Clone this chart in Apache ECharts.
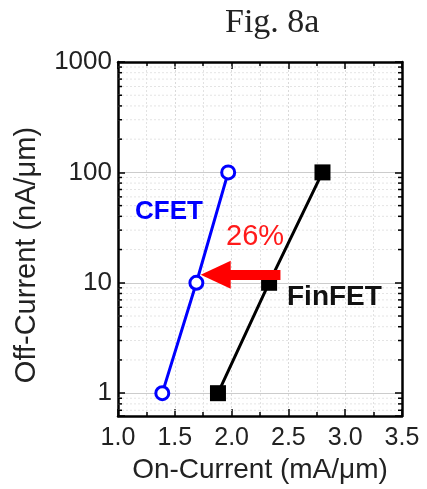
<!DOCTYPE html>
<html>
<head>
<meta charset="utf-8">
<script src="https://cdn.jsdelivr.net/npm/echarts@6/dist/echarts.min.js"></script>
<style>
html,body{margin:0;padding:0;background:#fff;}
#chart{width:427px;height:489px;}
</style>
</head>
<body>
<div id="chart"></div>
<script>
// ---- data ----
const xRange = [1.0, 3.5];
const yRange = [0.62, 1000];
const xTickLabels = ['1.0', '1.5', '2.0', '2.5', '3.0', '3.5'];
const yTickLabels = ['1', '10', '100', '1000'];
const yMinorTicks = [0.7, 0.8, 0.9, 2, 3, 4, 5, 6, 7, 8, 9, 20, 30, 40, 50, 60, 70, 80, 90, 200, 300, 400, 500, 600, 700, 800, 900];
const cfetOn = [1.39, 1.69, 1.97];
const cfetOff = [1, 10, 100];
const finfetOn = [1.88, 2.33, 2.80];
const finfetOff = [1, 10, 100];
const arrowFrom = [2.43, 11.8];
const arrowTo = [1.86, 11.8];

const FONT = 'Liberation Sans, Arial, sans-serif';
const chart = echarts.init(document.getElementById('chart'));

function isDecade(v) {
  const l = Math.log10(v);
  return Math.abs(l - Math.round(l)) < 1e-6;
}

const option = {
  backgroundColor: '#fff',
  animation: false,
  title: {
    text: 'Fig. 8a',
    left: 220, top: 1,
    textStyle: { fontFamily: 'Liberation Serif, Times New Roman, serif', fontSize: 34, fontWeight: 'normal', color: '#222' }
  },
  grid: { left: 118, right: 25, top: 62, bottom: 69, containLabel: false },
  xAxis: [{
    type: 'value', min: xRange[0], max: xRange[1], interval: 0.5,
    name: 'On-Current (mA/\u03bcm)', nameLocation: 'middle', nameGap: 27,
    nameTextStyle: { fontFamily: FONT, fontSize: 28, color: '#222' },
    axisLine: { show: true, onZero: false, lineStyle: { color: '#000', width: 2.5 } },
    axisTick: { show: true, inside: true, length: 7, lineStyle: { color: '#000', width: 1.5 } },
    minorTick: { show: true, splitNumber: 2, length: 4, lineStyle: { color: '#000', width: 1.5 } },
    axisLabel: { fontFamily: FONT, fontSize: 25, color: '#222', margin: 10,
      formatter: v => { const s = v.toFixed(1); return xTickLabels.includes(s) ? s : ''; } },
    splitLine: { show: true, lineStyle: { color: '#dadada', type: [2, 2], width: 1 } },
    minorSplitLine: { show: true, lineStyle: { color: '#e2e2e2', type: [2, 2], width: 1 } }
  }, {
    type: 'value', position: 'top', min: xRange[0], max: xRange[1], interval: 0.5,
    axisLine: { show: true, onZero: false, lineStyle: { color: '#000', width: 2.5 } },
    axisTick: { show: true, inside: true, length: 7, lineStyle: { color: '#000', width: 1.5 } },
    minorTick: { show: true, splitNumber: 2, length: 4, lineStyle: { color: '#000', width: 1.5 } },
    axisLabel: { show: false },
    splitLine: { show: false }
  }],
  yAxis: [{
    type: 'log', logBase: 10, min: yRange[0], max: yRange[1],
    axisLine: { show: true, onZero: false, lineStyle: { color: '#000', width: 2.5 } },
    axisTick: { show: true, inside: true, length: 7, lineStyle: { color: '#000', width: 1.5 } },
    axisLabel: { fontFamily: FONT, fontSize: 26, color: '#222', margin: 6,
      formatter: v => { if (!isDecade(v)) return ''; const s = String(Math.round(v)); return yTickLabels.includes(s) ? s : ''; } },
    splitLine: { show: true, lineStyle: { color: '#cccccc', width: 1 } }
  }, {
    type: 'log', logBase: 10, min: yRange[0], max: yRange[1], position: 'right',
    axisLine: { show: true, onZero: false, lineStyle: { color: '#000', width: 2.5 } },
    axisTick: { show: true, inside: true, length: 7, lineStyle: { color: '#000', width: 1.5 } },
    axisLabel: { show: false },
    splitLine: { show: false }
  }],
  graphic: [
    { type: 'text', x: 27, y: 255, rotation: Math.PI / 2,
      style: { text: 'Off-Current (nA/\u03bcm)', fontFamily: FONT, fontSize: 29, fill: '#222', textAlign: 'center', textVerticalAlign: 'middle' } },
    { type: 'text', x: 135, y: 212, z: 100,
      style: { text: 'CFET', fontFamily: FONT, fontSize: 26, fontWeight: 'bold', fill: '#0000ff', textAlign: 'left', textVerticalAlign: 'middle' } },
    { type: 'text', x: 226, y: 237, z: 100,
      style: { text: '26%', fontFamily: FONT, fontSize: 29, fill: '#ff1a1a', textAlign: 'left', textVerticalAlign: 'middle' } },
    { type: 'text', x: 287, y: 297, z: 100,
      style: { text: 'FinFET', fontFamily: FONT, fontSize: 28, fontWeight: 'bold', fill: '#111', textAlign: 'left', textVerticalAlign: 'middle' } }
  ],
  series: [
    {
      type: 'custom', name: 'minor', xAxisIndex: 0, yAxisIndex: 0, silent: true, z: 1,
      data: yMinorTicks.map(v => [xRange[0], v]),
      encode: { x: 0, y: 1 },
      renderItem: (params, api) => {
        const v = api.value(1);
        const p0 = api.coord([xRange[0], v]);
        const p1 = api.coord([xRange[1], v]);
        return { type: 'group', children: [
          { type: 'line', shape: { x1: p0[0], y1: p0[1], x2: p1[0], y2: p1[1] }, style: { stroke: '#e4e4e4', lineWidth: 1, lineDash: [2, 2] } },
          { type: 'line', shape: { x1: p0[0], y1: p0[1], x2: p0[0] + 4, y2: p0[1] }, style: { stroke: '#000', lineWidth: 1.5 } },
          { type: 'line', shape: { x1: p1[0], y1: p1[1], x2: p1[0] - 4, y2: p1[1] }, style: { stroke: '#000', lineWidth: 1.5 } }
        ] };
      }
    },
    {
      type: 'line', name: 'arrow', data: [], z: 3, silent: true,
      markLine: {
        silent: true, animation: false,
        symbol: ['none', 'triangle'], symbolSize: [28, 30],
        label: { show: false },
        lineStyle: { color: '#ff0000', width: 10, type: 'solid' },
        data: [[{ coord: arrowFrom }, { coord: arrowTo }]]
      }
    },
    {
      type: 'line', name: 'FinFET', z: 4,
      data: finfetOn.map((x, i) => [x, finfetOff[i]]),
      symbol: 'rect', symbolSize: 16,
      itemStyle: { color: '#000' },
      lineStyle: { color: '#000', width: 3 }
    },
    {
      type: 'line', name: 'CFET', z: 5,
      data: cfetOn.map((x, i) => [x, cfetOff[i]]),
      symbol: 'circle', symbolSize: 13, showAllSymbol: true,
      itemStyle: { color: '#fff', borderColor: '#0000ff', borderWidth: 3 },
      lineStyle: { color: '#0000ff', width: 3 }
    }
  ]
};
chart.setOption(option);
</script>
</body>
</html>
